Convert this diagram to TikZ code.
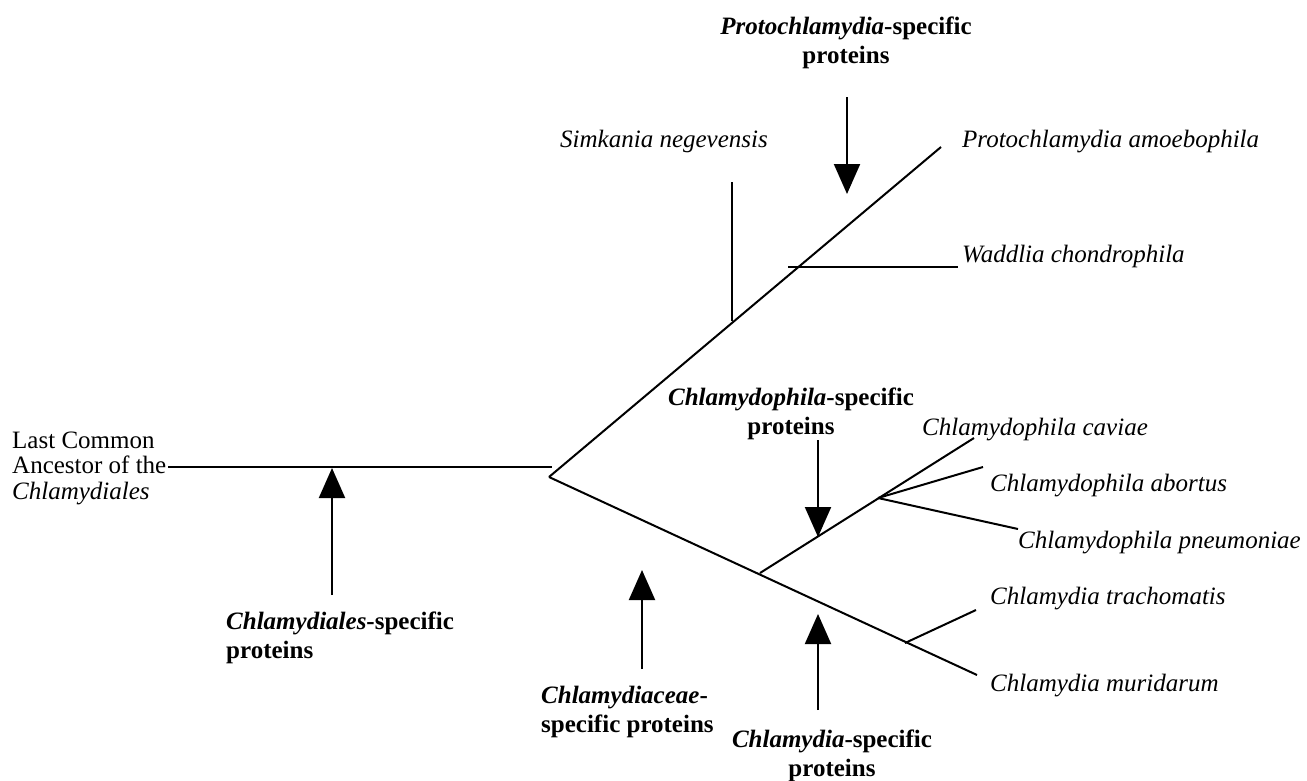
\documentclass[tikz,border=0pt]{standalone}
\usepackage{fontspec}
\setmainfont{Liberation Serif}
\usetikzlibrary{arrows.meta}
\begin{document}
\begin{tikzpicture}[x=1pt,y=-1pt,
  branch/.style={line width=2pt},
  marker/.style={line width=2pt,-{Triangle[length=30pt,width=26pt]}},
  taxon/.style={font=\fontsize{25}{28}\selectfont\itshape,anchor=base west,inner sep=0pt},
  grp/.style={font=\fontsize{25}{29.5}\selectfont\bfseries,inner sep=0pt},
  root/.style={font=\fontsize{25}{25.5}\selectfont,inner sep=0pt,align=left,anchor=west}]
\useasboundingbox (0,0) rectangle (1307,780);
% tree points
\coordinate (r0) at (168,467);
\coordinate (r1) at (552,467);
\coordinate (fork) at (549,477);
\coordinate (ptip) at (941,147);
\coordinate (sj) at (732,321);
\coordinate (stop) at (732,182);
\coordinate (wj) at (788,267);
\coordinate (wtip) at (958,267);
\coordinate (ltip) at (977,675);
\coordinate (cpj) at (760,573);
\coordinate (cpn) at (878,498);
\coordinate (cav) at (974,438);
\coordinate (abo) at (983,467);
\coordinate (pne) at (1018,529);
\coordinate (ctn) at (905,643);
\coordinate (tra) at (976,610);
% branches
\draw[branch] (r0) -- (r1);
\draw[branch] (fork) -- (ptip);
\draw[branch] (fork) -- (ltip);
\draw[branch] (sj) -- (stop);
\draw[branch] (wj) -- (wtip);
\draw[branch] (cpj) -- (cav);
\draw[branch] (cpn) -- (abo);
\draw[branch] (cpn) -- (pne);
\draw[branch] (ctn) -- (tra);
% taxa
\node[taxon] (tpa) at (962,147) {Protochlamydia amoebophila};
\node[taxon] (tsn) at (560,147) {Simkania negevensis};
\node[taxon] (twc) at (962,262) {Waddlia chondrophila};
\node[taxon] (tcc) at (922,435) {Chlamydophila caviae};
\node[taxon] (tca) at (990,491) {Chlamydophila abortus};
\node[taxon] (tcp) at (1018,548) {Chlamydophila pneumoniae};
\node[taxon] (tct) at (990,604) {Chlamydia trachomatis};
\node[taxon] (tcm) at (990,691) {Chlamydia muridarum};
\node[root] (lca) at (12,468) {Last Common\\Ancestor of the\\\textit{Chlamydiales}};
% group labels
\node[grp,align=center] (gpr) at (846,43) {\textit{Protochlamydia}-specific\\proteins};
\node[grp,align=center] (gcp) at (791,414) {\textit{Chlamydophila}-specific\\proteins};
\node[grp,align=left,anchor=west] (gcl) at (226,638) {\textit{Chlamydiales}-specific\\proteins};
\node[grp,align=left,anchor=west] (gce) at (541,712) {\textit{Chlamydiaceae}-\\specific proteins};
\node[grp,align=center] (gca) at (832,756) {\textit{Chlamydia}-specific\\proteins};
% arrows
\coordinate (a1s) at (847,97);  \coordinate (a1e) at (847,194);
\coordinate (a2s) at (818,440); \coordinate (a2e) at (818,537);
\coordinate (a3s) at (332,595); \coordinate (a3e) at (332,468);
\coordinate (a4s) at (642,669); \coordinate (a4e) at (642,570);
\coordinate (a5s) at (818,710); \coordinate (a5e) at (818,614);
\draw[marker] (a1s) -- (a1e);
\draw[marker] (a2s) -- (a2e);
\draw[marker] (a3s) -- (a3e);
\draw[marker] (a4s) -- (a4e);
\draw[marker] (a5s) -- (a5e);
\end{tikzpicture}
\end{document}
